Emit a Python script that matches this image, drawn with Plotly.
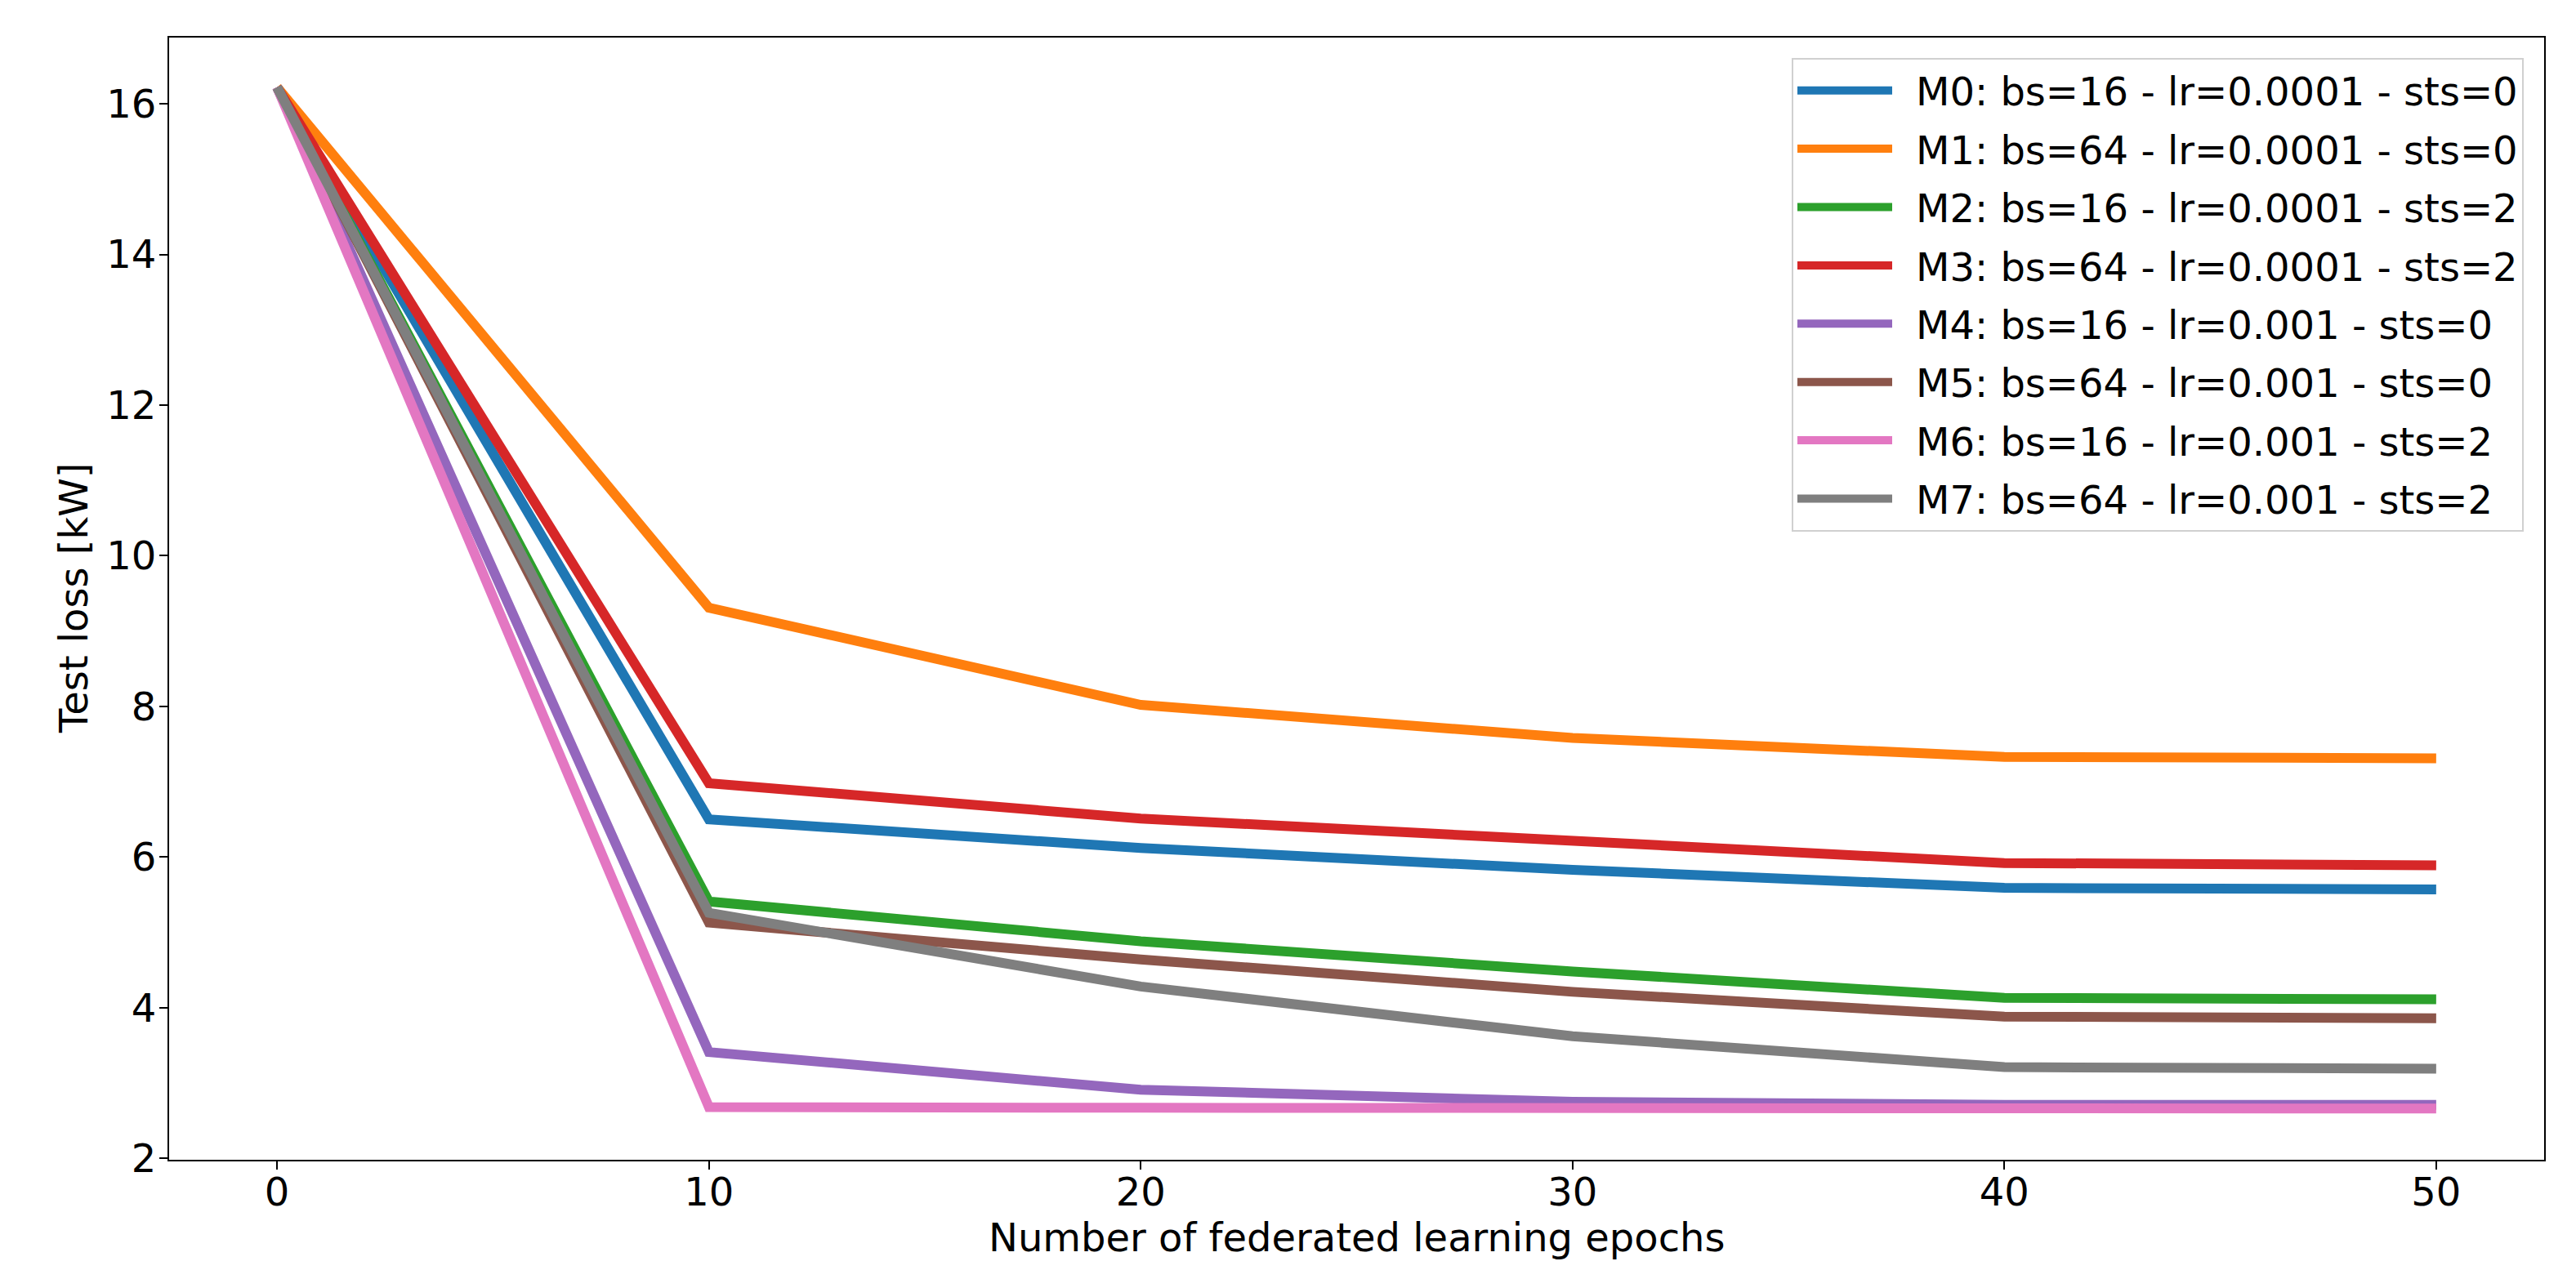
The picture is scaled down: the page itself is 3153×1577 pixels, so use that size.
import plotly.graph_objects as go

epochs = [0, 10, 20, 30, 40, 50]
labels = [
    "M0: bs=16 - lr=0.0001 - sts=0",
    "M1: bs=64 - lr=0.0001 - sts=0",
    "M2: bs=16 - lr=0.0001 - sts=2",
    "M3: bs=64 - lr=0.0001 - sts=2",
    "M4: bs=16 - lr=0.001 - sts=0",
    "M5: bs=64 - lr=0.001 - sts=0",
    "M6: bs=16 - lr=0.001 - sts=2",
    "M7: bs=64 - lr=0.001 - sts=2",
]
m0 = [16.22, 6.50, 6.12, 5.83, 5.59, 5.57]
m1 = [16.22, 9.31, 8.02, 7.58, 7.33, 7.31]
m2 = [16.22, 5.41, 4.88, 4.48, 4.13, 4.11]
m3 = [16.22, 6.98, 6.51, 6.20, 5.92, 5.89]
m4 = [16.22, 3.41, 2.91, 2.75, 2.71, 2.71]
m5 = [16.22, 5.13, 4.64, 4.21, 3.88, 3.86]
m6 = [16.22, 2.68, 2.67, 2.66, 2.66, 2.66]
m7 = [16.22, 5.26, 4.28, 3.62, 3.21, 3.19]
series = [m0, m1, m2, m3, m4, m5, m6, m7]
colors = ["#1f77b4", "#ff7f0e", "#2ca02c", "#d62728",
          "#9467bd", "#8c564b", "#e377c2", "#7f7f7f"]
x_title = "Number of federated learning epochs"
y_title = "Test loss [kW]"

fig = go.Figure()
for i, (lab, ys, c) in enumerate(zip(labels, series, colors)):
    fig.add_trace(go.Scatter(x=epochs, y=ys, mode="lines",
                             name="\u2002" + lab,
                             legendgroup=f"g{i}",
                             line=dict(color=c, width=12)))

FONT = "DejaVu Sans"
FS = 48
fig.update_layout(
    width=3145, height=1569,
    margin=dict(l=199, r=39, t=38, b=157, autoexpand=False),
    paper_bgcolor="white", plot_bgcolor="white",
    font=dict(family=FONT, size=FS, color="black"),
    showlegend=True,
    legend=dict(
        x=0.9914, y=0.9818, xanchor="right", yanchor="top",
        bgcolor="rgba(255,255,255,0.8)", bordercolor="#d0d0d0", borderwidth=2,
        font=dict(family=FONT, size=FS, color="black"),
        itemwidth=116, tracegroupgap=6,
    ),
    xaxis=dict(
        range=[-2.5, 52.5], tickvals=[0, 10, 20, 30, 40, 50],
        showgrid=False, zeroline=False, automargin=False,
        showline=True, linecolor="black", linewidth=2, mirror=True,
        ticks="outside", ticklen=10, tickwidth=2, tickcolor="black",
        tickfont=dict(family=FONT, size=FS), ticklabelstandoff=-14,
    ),
    yaxis=dict(
        range=[1.98, 16.88], tickvals=[2, 4, 6, 8, 10, 12, 14, 16],
        showgrid=False, zeroline=False, automargin=False,
        showline=True, linecolor="black", linewidth=2, mirror=True,
        ticks="outside", ticklen=10, tickwidth=2, tickcolor="black",
        tickfont=dict(family=FONT, size=FS), ticklabelstandoff=-6,
    ),
    annotations=[
        dict(text=x_title, xref="paper", yref="paper", x=0.5, y=0,
             xanchor="center", yanchor="middle", yshift=-95,
             showarrow=False, font=dict(family=FONT, size=FS)),
        dict(text=y_title, xref="paper", yref="paper", x=0, y=0.5,
             xanchor="center", yanchor="middle", xshift=-117, textangle=-90,
             showarrow=False, font=dict(family=FONT, size=FS)),
    ],
)

fig.write_html("out.html")
